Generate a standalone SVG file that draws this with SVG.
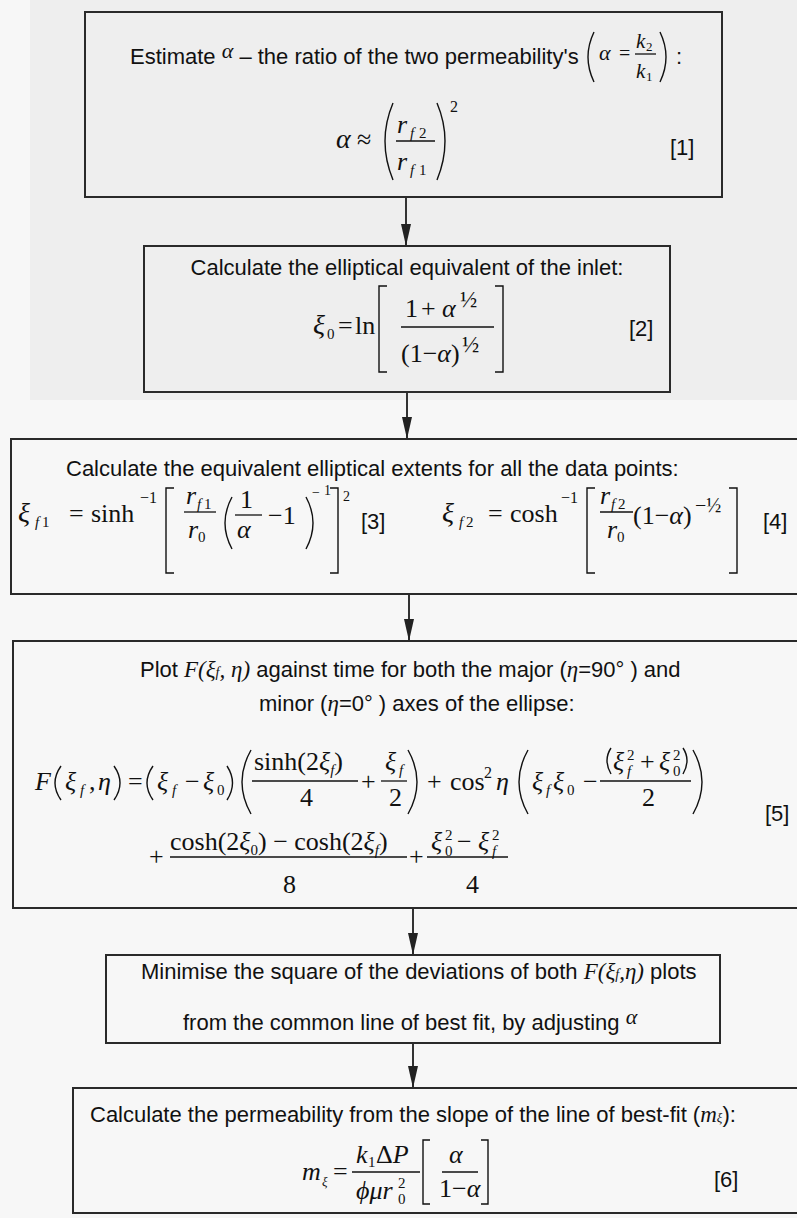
<svg xmlns="http://www.w3.org/2000/svg" width="797" height="1218" viewBox="0 0 797 1218">
<defs>
<style>
.s{font-family:"Liberation Sans",Arial,sans-serif;font-size:22px;fill:#111}
.m{font-family:"Liberation Serif","Times New Roman",serif;font-size:26px;fill:#111}
.i{font-style:italic}
.sb{font-size:15px}
.sp{font-size:16px}
.box{fill:none;stroke:#2a2a2a;stroke-width:2}
.d{fill:none;stroke:#111;stroke-width:1.4}
.bar{stroke:#111;stroke-width:1.3}
.conn{stroke:#333;stroke-width:2;fill:none}
</style>
<marker id="ah" markerUnits="userSpaceOnUse" markerWidth="22" markerHeight="10" refX="22" refY="5" orient="auto">
<path d="M0,0 L22,5 L0,10 z" fill="#222"/>
</marker>
</defs>
<rect width="797" height="1218" fill="#f7f7f7"/>
<rect x="30" y="0" width="767" height="400" fill="#eeeeee"/>

<g id="connectors">
<line class="conn" x1="406" y1="197" x2="406" y2="246" marker-end="url(#ah)"/>
<line class="conn" x1="407" y1="392" x2="407" y2="439" marker-end="url(#ah)"/>
<line class="conn" x1="409" y1="594" x2="409" y2="641" marker-end="url(#ah)"/>
<line class="conn" x1="413" y1="908" x2="413" y2="955" marker-end="url(#ah)"/>
<line class="conn" x1="413" y1="1043" x2="413" y2="1088" marker-end="url(#ah)"/>
</g>

<g id="node1">
<rect class="box" x="85" y="12" width="637" height="185"/>
<text class="s" x="130" y="64">Estimate <tspan class="m i" style="font-size:22px" dy="-6">α</tspan><tspan dy="6"> – the ratio of the two permeability's</tspan></text>
<path class="d" d="M594,32 Q582,57 594,82"/>
<text class="m i" x="599" y="60" style="font-size:22px">α</text>
<text class="m" x="619" y="60" style="font-size:20px">=</text>
<text class="m i" x="636" y="48" style="font-size:21px">k</text><text class="m" x="646" y="51" style="font-size:13px">2</text>
<line class="bar" x1="635" y1="54" x2="656" y2="54"/>
<text class="m i" x="636" y="78" style="font-size:21px">k</text><text class="m" x="646" y="81" style="font-size:13px">1</text>
<path class="d" d="M660,32 Q672,57 660,82"/>
<text class="s" x="676" y="64">:</text>
<text class="m i" x="336" y="148" style="font-size:28px">α</text>
<text class="m" x="357" y="148">≈</text>
<path class="d" d="M393,103 Q377,141 393,180"/>
<text class="m i" x="397" y="133">r</text><text class="m i sb" x="410" y="138">f</text><text class="m sb" x="419" y="138">2</text>
<line class="bar" x1="396" y1="141" x2="435" y2="141"/>
<text class="m i" x="397" y="170">r</text><text class="m i sb" x="410" y="175">f</text><text class="m sb" x="419" y="175">1</text>
<path class="d" d="M437,103 Q453,141 437,180"/>
<text class="m sp" x="450" y="112">2</text>
<text class="s" x="670" y="155">[1]</text>
</g>

<g id="node2">
<rect class="box" x="144" y="246" width="526" height="146"/>
<text class="s" x="407" y="275" text-anchor="middle">Calculate the elliptical equivalent of the inlet:</text>
<text class="m i" x="313" y="334" style="font-size:28px">ξ</text><text class="m sb" x="327" y="339">0</text>
<text class="m" x="338" y="334">=</text>
<text class="m" x="355" y="334">ln</text>
<path class="d" d="M387,286 H379 V372 H387"/>
<text class="m" x="405" y="317">1</text><text class="m" x="421" y="317">+</text><text class="m i" x="442" y="317">α</text><text class="m" x="460" y="307" style="font-size:23px">½</text>
<line class="bar" x1="401" y1="327" x2="494" y2="327"/>
<text class="m" x="401" y="362">(1−<tspan class="i">α</tspan>)</text><text class="m" x="462" y="352" style="font-size:23px">½</text>
<path class="d" d="M495,286 H503 V372 H495"/>
<text class="s" x="629" y="336">[2]</text>
</g>

<g id="node3">
<rect class="box" x="11" y="439" width="800" height="155"/>
<text class="s" x="66" y="476">Calculate the equivalent elliptical extents for all the data points:</text>
<text class="m i" x="18" y="522" style="font-size:28px">ξ</text><text class="m i sb" x="35" y="527">f</text><text class="m sb" x="42" y="527">1</text>
<text class="m" x="69" y="522">=</text>
<text class="m" x="91" y="522">sinh</text><text class="m sp" x="140" y="503">−1</text>
<path class="d" d="M174,488 H166 V573 H174"/>
<text class="m i" x="186" y="504">r</text><text class="m i sb" x="197" y="509">f</text><text class="m sb" x="204" y="509">1</text>
<line class="bar" x1="184" y1="512" x2="216" y2="512"/>
<text class="m i" x="188" y="538">r</text><text class="m sb" x="198" y="542">0</text>
<path class="d" d="M232,497 Q218,523 232,549"/>
<text class="m" x="240" y="508">1</text>
<line class="bar" x1="235" y1="515" x2="262" y2="515"/>
<text class="m i" x="237" y="538">α</text>
<text class="m" x="268" y="524">−1</text>
<path class="d" d="M306,497 Q320,523 306,549"/>
<text class="m" x="312" y="497" style="font-size:14px">−</text><text class="m" x="324" y="495" style="font-size:14px">1</text><text class="m" x="343" y="501" style="font-size:14px">2</text>
<path class="d" d="M330,488 H338 V573 H330"/>
<text class="s" x="361" y="529">[3]</text>
<text class="m i" x="442" y="522" style="font-size:28px">ξ</text><text class="m i sb" x="459" y="527">f</text><text class="m sb" x="466" y="527">2</text>
<text class="m" x="488" y="522">=</text>
<text class="m" x="510" y="522">cosh</text><text class="m sp" x="561" y="503">−1</text>
<path class="d" d="M595,488 H587 V573 H595"/>
<text class="m i" x="600" y="504">r</text><text class="m i sb" x="611" y="509">f</text><text class="m sb" x="618" y="509">2</text>
<line class="bar" x1="600" y1="512" x2="633" y2="512"/>
<text class="m i" x="607" y="538">r</text><text class="m sb" x="617" y="542">0</text>
<text class="m" x="633" y="524">(1−<tspan class="i">α</tspan>)</text>
<text class="m" x="695" y="512" style="font-size:20px">−½</text>
<path class="d" d="M729,488 H737 V573 H729"/>
<text class="s" x="763" y="529">[4]</text>
</g>

<g id="node4">
<rect class="box" x="13" y="641" width="800" height="267"/>
<text class="s" x="140" y="677">Plot <tspan class="m i" style="font-size:23px">F(ξ</tspan><tspan class="m i" style="font-size:14px">f</tspan><tspan class="m i" style="font-size:23px">, η)</tspan> against time for both the major (<tspan class="m i" style="font-size:23px">η</tspan>=90° ) and</text>
<text class="s" x="259" y="711">minor (<tspan class="m i" style="font-size:23px">η</tspan>=0° ) axes of the ellipse:</text>
<text class="m i" x="35" y="790">F</text>
<path class="d" d="M61,766 Q49,783 61,800"/>
<text class="m i" x="65" y="790">ξ</text><text class="m i sb" x="80" y="795">f</text>
<text class="m" x="89" y="790">,</text><text class="m i" x="98" y="790">η</text>
<path class="d" d="M114,766 Q126,783 114,800"/>
<text class="m" x="128" y="790">=</text>
<path class="d" d="M153,766 Q141,783 153,800"/>
<text class="m i" x="157" y="790">ξ</text><text class="m i sb" x="172" y="795">f</text>
<text class="m" x="185" y="790">−</text>
<text class="m i" x="203" y="790">ξ</text><text class="m sb" x="217" y="795">0</text>
<path class="d" d="M227,766 Q238,783 227,800"/>
<path class="d" d="M251,750 Q233,782 251,814"/>
<text class="m" x="254" y="770">sinh(2<tspan class="i">ξ</tspan><tspan class="i" style="font-size:15px" dy="5">f</tspan><tspan dy="-5">)</tspan></text>
<line class="bar" x1="252" y1="781" x2="358" y2="781"/>
<text class="m" x="300" y="806">4</text>
<text class="m" x="361" y="790">+</text>
<text class="m i" x="385" y="770">ξ</text><text class="m i sb" x="399" y="775">f</text>
<line class="bar" x1="381" y1="781" x2="407" y2="781"/>
<text class="m" x="389" y="806">2</text>
<path class="d" d="M408,750 Q426,782 408,814"/>
<text class="m" x="427" y="790">+</text>
<text class="m" x="450" y="790">cos</text><text class="m sp" x="484" y="778">2</text>
<text class="m i" x="496" y="790">η</text>
<path class="d" d="M528,750 Q510,782 528,814"/>
<text class="m i" x="532" y="790">ξ</text><text class="m i sb" x="546" y="795">f</text>
<text class="m i" x="553" y="790">ξ</text><text class="m sb" x="567" y="795">0</text>
<text class="m" x="583" y="790">−</text>
<path class="d" d="M611,748 Q603,760 611,774"/>
<text class="m i" x="613" y="770">ξ</text><text class="m sb" x="627" y="760">2</text><text class="m i sb" x="627" y="776">f</text>
<text class="m" x="640" y="770">+</text>
<text class="m i" x="659" y="770">ξ</text><text class="m sb" x="673" y="760">2</text><text class="m sb" x="673" y="776">0</text>
<path class="d" d="M683,748 Q691,760 683,774"/>
<line class="bar" x1="600" y1="781" x2="691" y2="781"/>
<text class="m" x="642" y="806">2</text>
<path class="d" d="M693,750 Q711,782 693,814"/>
<text class="s" x="765" y="821">[5]</text>
<text class="m" x="149" y="865">+</text>
<text class="m" x="170" y="850">cosh(2<tspan class="i">ξ</tspan><tspan style="font-size:15px" dy="5">0</tspan><tspan dy="-5">) − cosh(2</tspan><tspan class="i">ξ</tspan><tspan class="i" style="font-size:15px" dy="5">f</tspan><tspan dy="-5">)</tspan></text>
<line class="bar" x1="170" y1="857" x2="407" y2="857"/>
<text class="m" x="283" y="893">8</text>
<text class="m" x="409" y="865">+</text>
<text class="m i" x="431" y="850">ξ</text><text class="m sb" x="445" y="840">2</text><text class="m sb" x="445" y="856">0</text>
<text class="m" x="457" y="850">−</text>
<text class="m i" x="478" y="850">ξ</text><text class="m sb" x="492" y="840">2</text><text class="m i sb" x="492" y="856">f</text>
<line class="bar" x1="427" y1="857" x2="508" y2="857"/>
<text class="m" x="466" y="893">4</text>
</g>

<g id="node5">
<rect class="box" x="106" y="955" width="614" height="88"/>
<text class="s" x="141" y="979">Minimise the square of the deviations of both <tspan class="m i" style="font-size:23px">F(ξ</tspan><tspan class="m i" style="font-size:14px">f</tspan><tspan class="m i" style="font-size:23px">,η)</tspan> plots</text>
<text class="s" x="183" y="1030">from the common line of best fit, by adjusting <tspan class="m i" style="font-size:22px" dy="-6">α</tspan></text>
</g>

<g id="node6">
<rect class="box" x="73" y="1088" width="740" height="125"/>
<text class="s" x="90" y="1122">Calculate the permeability from the slope of the line of best-fit (<tspan class="m i" style="font-size:23px">m</tspan><tspan class="m i" style="font-size:13px">ξ</tspan>):</text>
<text class="m i" x="302" y="1180">m</text><text class="m i" x="322" y="1186" style="font-size:13px">ξ</text>
<text class="m" x="333" y="1180">=</text>
<text class="m i" x="356" y="1163">k</text><text class="m sb" x="368" y="1167">1</text><text class="m" x="376" y="1163">Δ<tspan class="i">P</tspan></text>
<line class="bar" x1="352" y1="1172" x2="420" y2="1172"/>
<text class="m i" x="356" y="1199">ϕμr</text><text class="m sb" x="398" y="1204">0</text><text class="m sb" x="398" y="1188">2</text>
<path class="d" d="M430,1140 H423 V1204 H430"/>
<text class="m i" x="449" y="1163">α</text>
<line class="bar" x1="442" y1="1172" x2="478" y2="1172"/>
<text class="m" x="439" y="1197">1−<tspan class="i">α</tspan></text>
<path class="d" d="M481,1140 H488 V1204 H481"/>
<text class="s" x="714" y="1187">[6]</text>
</g>
</svg>
